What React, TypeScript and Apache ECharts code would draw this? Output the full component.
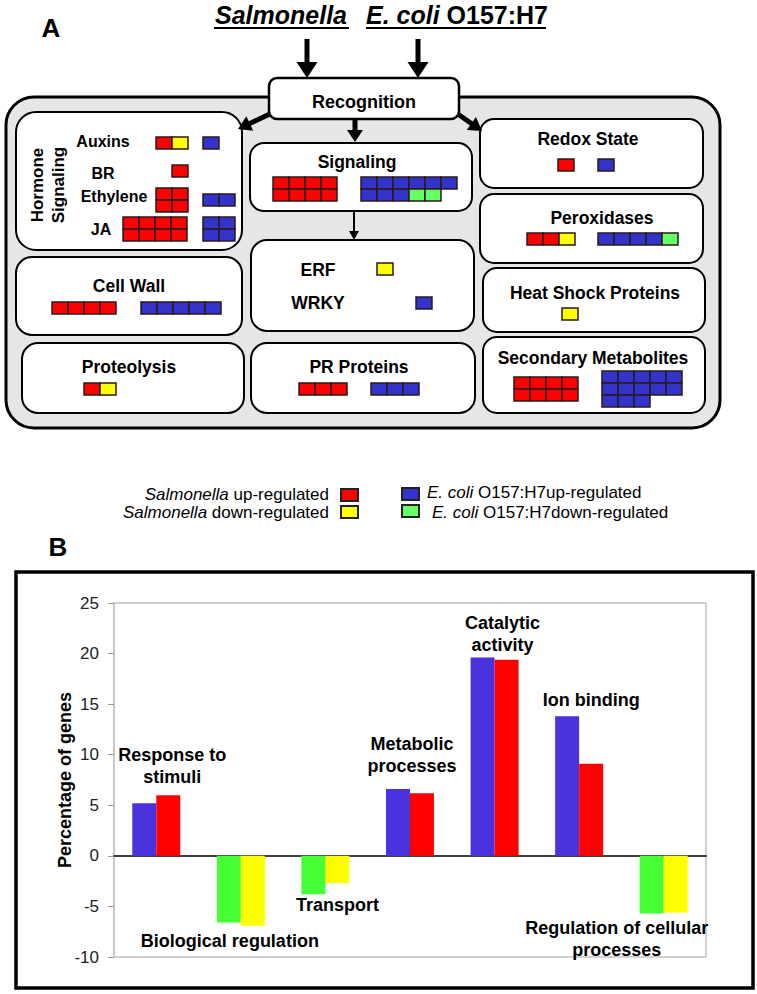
import React, { useEffect, useRef } from 'react';
import * as echarts from 'echarts';

// ---------- Panel B data ----------
const categories = [
  'Response to stimuli',
  'Biological regulation',
  'Transport',
  'Metabolic processes',
  'Catalytic activity',
  'Ion binding',
  'Regulation of cellular processes',
];
const ecoliPct = [5.2, -6.6, -3.8, 6.6, 19.6, 13.8, -5.7];
const salmonellaPct = [6.0, -6.9, -2.7, 6.2, 19.4, 9.1, -5.6];
const yTickMin = -10;
const yTickMax = 25;
const yTickStep = 5;
const catLabelLines = [
  ['Response to', 'stimuli'],
  ['Biological regulation'],
  ['Transport'],
  ['Metabolic', 'processes'],
  ['Catalytic', 'activity'],
  ['Ion binding'],
  ['Regulation of cellular', 'processes'],
];
// value (y) where the first label line is centred, and pixel shift from the category centre
const catLabelAt = [10.0, -8.4, -4.9, 11.1, 23.0, 15.4, -7.1];
const catLabelDx = [16, -11, 12, 2, 8, 12, -47];

// ---------- Panel A data ----------
const processNames = [
  'Auxins', 'BR', 'Ethylene', 'JA', 'Signaling', 'ERF', 'WRKY', 'Cell Wall',
  'Proteolysis', 'PR Proteins', 'Redox State', 'Peroxidases', 'Heat Shock Proteins',
  'Secondary Metabolites',
];
// R = Salmonella up, Y = Salmonella down, B = E. coli up, G = E. coli down
const salmonellaCells = [
  ['RY'], ['R'], ['RR', 'RR'], ['RRRR', 'RRRR'], ['RRRR', 'RRRR'], ['Y'], [],
  ['RRRR'], ['RY'], ['RRR'], ['R'], ['RRY'], ['Y'], ['RRRR', 'RRRR'],
];
const ecoliCells = [
  ['B'], [], ['BB'], ['BB', 'BB'], ['BBBBBB', 'BBBGG'], [], ['B'],
  ['BBBBB'], [], ['BBB'], ['B'], ['BBBBG'], [], ['BBBBB', 'BBBBB', 'BBB'],
];
const legendLabels = [
  'Salmonella up-regulated',
  'Salmonella down-regulated',
  'E. coli O157:H7up-regulated',
  'E. coli O157:H7down-regulated',
];

// ---------- layout (positions only) ----------
const salmPos: (number[] | null)[] = [
  [156, 137], [172, 165], [156, 188], [123, 217], [273, 177], [377, 263], null,
  [52, 302], [84, 383], [299, 383], [558, 159], [527, 233], [562, 308], [514, 377],
];
const ecoliPos: (number[] | null)[] = [
  [203, 137], null, [203, 194], [203, 217], [361, 177], null, [416, 297],
  [141, 302], null, [371, 383], [598, 159], [598, 233], null, [602, 371],
];
const labelPos: number[][] = [
  [103, 141], [103, 173], [114, 196], [101, 229], [357, 162], [318, 270], [318, 303],
  [129, 286], [129, 367], [359, 367], [588, 139], [602, 218], [595, 293], [593, 358],
];

const FF = '"Liberation Sans", Arial, Helvetica, sans-serif';
const CELL_COL: Record<string, string> = { R: '#ff0000', Y: '#ffff00', B: '#3333cc', G: '#66ff66' };
const CELL_W = 16;
const CELL_H = 12;

function txt(x: number, y: number, text: string, size: number, extra: any = {}) {
  const { rotation, z, ...st } = extra;
  return {
    type: 'text',
    x,
    y,
    rotation: rotation || 0,
    z: z || 6,
    style: {
      text,
      fill: '#000',
      fontFamily: FF,
      fontSize: size,
      fontWeight: 'bold',
      align: 'center',
      verticalAlign: 'middle',
      textAlign: 'center',
      textVerticalAlign: 'middle',
      ...st,
    },
  };
}

function box(x1: number, y1: number, x2: number, y2: number, r: number, z = 2, fill = '#fff', lw = 2) {
  return {
    type: 'rect',
    z,
    shape: { x: x1, y: y1, width: x2 - x1, height: y2 - y1, r },
    style: { fill, stroke: '#000', lineWidth: lw },
  };
}

function arrow(x1: number, y1: number, x2: number, y2: number, sw: number, hl: number, hw: number, z = 3) {
  const dx = x2 - x1;
  const dy = y2 - y1;
  const L = Math.hypot(dx, dy);
  const ux = dx / L;
  const uy = dy / L;
  const px = -uy;
  const py = ux;
  const bx = x2 - ux * hl;
  const by = y2 - uy * hl;
  const pts = [
    [x1 + (px * sw) / 2, y1 + (py * sw) / 2],
    [bx + (px * sw) / 2, by + (py * sw) / 2],
    [bx + (px * hw) / 2, by + (py * hw) / 2],
    [x2, y2],
    [bx - (px * hw) / 2, by - (py * hw) / 2],
    [bx - (px * sw) / 2, by - (py * sw) / 2],
    [x1 - (px * sw) / 2, y1 - (py * sw) / 2],
  ];
  return { type: 'polygon', z, shape: { points: pts }, style: { fill: '#000' } };
}

function cellBlock(rows: string[], pos: number[] | null) {
  const out: any[] = [];
  if (!pos) return out;
  rows.forEach((row, ri) => {
    row.split('').forEach((c, ci) => {
      out.push({
        type: 'rect',
        z: 7,
        shape: { x: pos[0] + ci * CELL_W, y: pos[1] + ri * CELL_H, width: CELL_W, height: CELL_H },
        style: { fill: CELL_COL[c], stroke: '#2a1a1a', lineWidth: 1.5 },
      });
    });
  });
  return out;
}

function panelA(): any[] {
  const els: any[] = [];
  // panel letters
  els.push(txt(51, 28, 'A', 26));
  els.push(txt(58, 547, 'B', 26));
  // titles
  els.push(txt(281, 15, 'Salmonella', 25, { fontStyle: 'italic' }));
  els.push({
    type: 'text',
    x: 366,
    y: 15,
    z: 6,
    style: {
      text: '{i|E. coli} {n|O157:H7}',
      fill: '#000',
      fontFamily: FF,
      fontSize: 25,
      fontWeight: 'bold',
      align: 'left',
      verticalAlign: 'middle',
      textAlign: 'left',
      textVerticalAlign: 'middle',
      rich: {
        i: { fontFamily: FF, fontSize: 25, fontWeight: 'bold', fontStyle: 'italic', fill: '#000' },
        n: { fontFamily: FF, fontSize: 25, fontWeight: 'bold', fill: '#000' },
      },
    },
  });
  els.push({ type: 'line', z: 6, shape: { x1: 214, y1: 28, x2: 349, y2: 28 }, style: { stroke: '#000', lineWidth: 2 } });
  els.push({ type: 'line', z: 6, shape: { x1: 366, y1: 28, x2: 546, y2: 28 }, style: { stroke: '#000', lineWidth: 2 } });
  // arrows from pathogens
  els.push(arrow(307, 39, 307, 78, 5, 16, 21));
  els.push(arrow(418, 39, 418, 78, 5, 16, 21));
  // outer grey panel
  els.push(box(6, 97, 720, 428, 28, 1, '#e6e6e6', 3));
  // inner boxes
  els.push(box(16, 112, 242, 250, 20));
  els.push(box(16, 257, 242, 335, 16));
  els.push(box(22, 343, 244, 413, 16));
  els.push(box(250, 143, 472, 211, 14));
  els.push(box(251, 240, 474, 331, 16));
  els.push(box(251, 343, 475, 413, 16));
  els.push(box(480, 119, 703, 188, 14));
  els.push(box(480, 194, 703, 263, 14));
  els.push(box(483, 268, 705, 332, 14));
  els.push(box(483, 337, 705, 413, 14));
  // arrows from recognition
  els.push(arrow(274, 112, 238, 129, 5, 13, 16, 4));
  els.push(arrow(455, 112, 482, 131, 5, 13, 16, 4));
  els.push(arrow(355, 118, 355, 142, 5, 12, 16, 4));
  els.push(arrow(354, 211, 354, 240, 2, 9, 10, 4));
  // recognition box
  els.push(box(269, 78, 459, 119, 8, 5, '#fff', 2.5));
  els.push(txt(364, 102, 'Recognition', 18));
  // hormone signaling vertical label
  els.push(txt(37, 185, 'Hormone', 17, { rotation: Math.PI / 2 }));
  els.push(txt(58, 185, 'Signaling', 17, { rotation: Math.PI / 2 }));
  // process labels and gene cells
  processNames.forEach((name, i) => {
    const size = i < 4 ? 16 : 17.5;
    els.push(txt(labelPos[i][0], labelPos[i][1], name, size));
    els.push(...cellBlock(salmonellaCells[i], salmPos[i]));
    els.push(...cellBlock(ecoliCells[i], ecoliPos[i]));
  });
  // legend
  const legSq = [
    [341, 489, 'R'], [341, 506, 'Y'], [402, 488, 'B'], [402, 505, 'G'],
  ] as [number, number, string][];
  legSq.forEach(([x, y, c]) => {
    els.push({
      type: 'rect',
      z: 7,
      shape: { x, y, width: 17, height: 12 },
      style: { fill: CELL_COL[c], stroke: '#222', lineWidth: 2 },
    });
  });
  const legText = (x: number, y: number, s: string, align: string) => {
    const m = s.match(/^(Salmonella|E\. coli)(.*)$/);
    const head = m ? m[1] : '';
    const tail = m ? m[2] : s;
    return {
      type: 'text',
      x,
      y,
      z: 6,
      style: {
        text: `{i|${head}}{n|${tail}}`,
        fill: '#000',
        fontFamily: FF,
        fontSize: 17,
        lineHeight: 15,
        align,
        verticalAlign: 'middle',
        textAlign: align,
        textVerticalAlign: 'middle',
        rich: {
          i: { fontFamily: FF, fontSize: 17, lineHeight: 15, fontStyle: 'italic', fill: '#000' },
          n: { fontFamily: FF, fontSize: 17, lineHeight: 15, fill: '#000' },
        },
      },
    };
  };
  els.push(legText(329, 494, legendLabels[0], 'right'));
  els.push(legText(329, 512, legendLabels[1], 'right'));
  els.push(legText(427, 492, legendLabels[2], 'left'));
  els.push(legText(432, 512, legendLabels[3], 'left'));
  // panel B frame
  els.push({
    type: 'rect',
    z: 8,
    shape: { x: 16, y: 572, width: 737, height: 416 },
    style: { fill: 'none', stroke: '#000', lineWidth: 3.5 },
  });
  return els;
}

export default function App() {
  const ref = useRef<HTMLDivElement>(null);
  useEffect(() => {
    if (!ref.current) return;
    const chart = echarts.init(ref.current, null, { renderer: 'svg', width: 757, height: 994 });
    chart.setOption({
      animation: false,
      backgroundColor: '#fff',
      grid: {
        left: 114,
        top: 603,
        width: 592,
        height: 354,
        show: true,
        borderColor: '#c4c4c4',
        borderWidth: 1.5,
        containLabel: false,
      },
      xAxis: {
        type: 'category',
        data: categories,
        axisLine: { onZero: true, lineStyle: { color: '#000', width: 1.5 } },
        axisTick: { show: false },
        axisLabel: { show: false },
        splitLine: { show: false },
      },
      yAxis: {
        type: 'value',
        min: yTickMin,
        max: yTickMax,
        interval: yTickStep,
        name: 'Percentage of genes',
        nameLocation: 'middle',
        nameGap: 40,
        nameMoveOverlap: false,
        nameRotate: 90,
        nameTextStyle: { fontSize: 18, fontWeight: 'bold', fontFamily: FF, color: '#000' },
        axisLine: { show: true, lineStyle: { color: '#c4c4c4', width: 1.5 } },
        axisTick: { show: true, length: 6, lineStyle: { color: '#9a9a9a' } },
        axisLabel: { fontSize: 17, color: '#222', margin: 15, fontFamily: FF },
        splitLine: { show: false },
      },
      series: [
        {
          type: 'bar',
          name: 'E. coli O157:H7',
          data: ecoliPct,
          barWidth: 24,
          barGap: '0%',
          itemStyle: { color: (p: any) => (p.value >= 0 ? '#4a33dd' : '#44ff33') },
        },
        {
          type: 'bar',
          name: 'Salmonella',
          data: salmonellaPct,
          barWidth: 24,
          barGap: '0%',
          itemStyle: { color: (p: any) => (p.value >= 0 ? '#ff0000' : '#ffff00') },
        },
      ],
    });
    const labels: any[] = [];
    categories.forEach((c, i) => {
      const pt = chart.convertToPixel({ gridIndex: 0 }, [c, catLabelAt[i]]) as number[];
      catLabelLines[i].forEach((line, li) => {
        labels.push(txt(pt[0] + catLabelDx[i], pt[1] + li * 22, line, 18, { z: 9 }));
      });
    });
    chart.setOption({ graphic: { elements: [...panelA(), ...labels] } });
    return () => chart.dispose();
  }, []);
  return <div ref={ref} style={{ position: 'absolute', left: 0, top: 0, width: 757, height: 994 }} />;
}
